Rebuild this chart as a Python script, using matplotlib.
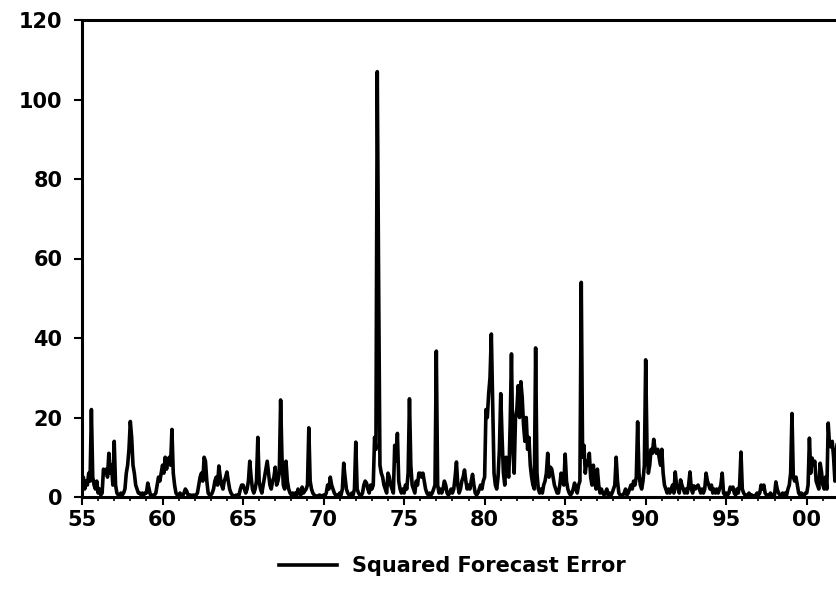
import numpy as np
import matplotlib.pyplot as plt
from matplotlib.ticker import FixedLocator, MultipleLocator

plt.rcParams['font.family'] = ['DejaVu Sans']
plt.rcParams['font.weight'] = 'bold'

# monthly squared forecast errors, Jan..Dec per row
err_1955_59 = [
    3, 5, 2, 4, 3, 6, 4, 22, 5, 3, 2, 4,
    1, 2, 0.5, 1, 7, 6, 7, 5, 11, 6, 8, 3,
    14, 3, 1, 0.5, 0.5, 1, 0.5, 1, 2, 6, 8, 12,
    19, 15, 8, 6, 3, 2, 1, 1, 0.5, 1, 0.5, 1,
    1, 3.5, 2, 0.5, 0.5, 0.3, 0.5, 1, 3, 5, 4, 6,
]
err_1960_64 = [
    8, 6, 10, 7, 9, 10, 8, 17, 6, 3, 1, 0.5,
    0.5, 1, 0.5, 0.3, 1, 2, 1.5, 0.5, 0.3, 0.5, 0.2, 0.5,
    0.3, 0.5, 1, 3, 5, 6, 4, 10, 9, 4, 1, 0.5,
    0.5, 1, 2, 4, 5, 3, 7.8, 5, 3, 2, 4, 5,
    6.3, 4, 2, 1, 0.5, 0.3, 0.2, 0.5, 0.3, 0.5, 2, 3,
]
err_1965_69 = [
    3, 2, 1, 2, 4, 9, 5, 2, 1, 2, 4, 15,
    4, 2, 1, 3, 5, 7, 9, 6, 3, 2, 4, 5,
    7.5, 3, 4, 6, 24.4, 10, 3, 2, 9, 4, 2, 1,
    0.5, 1, 0.5, 1, 0.5, 2, 1, 0.5, 2.5, 1, 1.5, 2,
    3, 17.4, 4, 2, 1, 0.5, 0.3, 0.2, 0.3, 0.5, 0.3, 0.2,
]
err_1970_74 = [
    0.5, 0.3, 1, 3, 2, 5, 3, 2, 1, 0.5, 0.3, 0.5,
    1, 0.5, 2, 8.5, 5, 2, 1, 0.5, 0.3, 1, 0.5, 2,
    13.8, 2, 1, 0.5, 0.3, 1, 3, 4, 3.5, 2, 1, 3,
    2, 3, 15, 12, 107, 55, 8, 6, 5, 3, 2, 1,
    6, 5, 3, 2, 1, 13, 9, 16, 4, 2, 1, 2,
]
err_1975_79 = [
    1, 3, 2, 6, 24.7, 8, 3, 2, 1, 4, 3, 6,
    6, 5, 6, 4, 2, 1, 0.5, 1, 0.5, 1, 2, 3,
    36.7, 3, 1, 2, 1, 2, 4, 3, 1, 0.5, 1, 2,
    1, 2, 5, 8.8, 3, 1, 2, 4, 5, 6.8, 4, 2,
    3, 2, 4, 5.7, 3, 1, 0.5, 1, 2, 3, 2, 4,
]
err_1980_84 = [
    5, 22, 20, 26, 30, 41, 24, 6, 3, 2, 5, 12,
    26, 15, 6, 3, 10, 6, 5, 18, 36, 12, 6, 20,
    22, 28, 20, 29, 25, 18, 14, 20, 12, 15, 8, 5,
    3, 2, 37.5, 6, 2, 1, 2, 1, 3, 4, 6, 11,
    5, 7.5, 7, 5, 3, 2, 1, 1, 3, 6, 4, 3,
]
err_1985_89 = [
    10.8, 4, 2, 1, 0.5, 1, 2, 3.5, 2, 1, 3, 4,
    54, 10, 13, 6, 9, 8, 11, 5, 3, 8, 4, 2,
    7, 3, 1, 2, 1, 0.5, 1, 2, 0.5, 1, 0.3, 1,
    2, 3, 10, 4, 1, 0.5, 0.3, 0.5, 1, 2, 0.5, 1,
    2, 3, 2, 4, 3, 5, 18.9, 6, 3, 2, 4, 8,
]
err_1990_94 = [
    34.5, 12, 6, 8, 12, 11, 14.5, 12, 11, 12, 10, 8,
    12, 6, 3, 2, 1, 2, 1, 2, 3, 1, 6.3, 3,
    2, 1, 4.3, 3, 2, 1, 2, 1, 3, 6.3, 2, 1,
    2.8, 2, 2.5, 3, 2, 1, 2, 1, 2, 6, 4, 3,
    2, 3, 1, 2, 1, 2, 1, 2, 3, 6, 1, 0.5,
]
err_1995_01 = [
    1, 0.5, 1, 2.5, 2, 2.5, 1, 0.5, 2, 1, 3, 11.3,
    2, 1, 0.5, 0.3, 0.5, 1, 0.3, 0.5, 0.3, 0.2, 0.5, 1,
    0.5, 1, 3, 2, 3, 1, 0.5, 0.3, 0.5, 1, 0.5, 0.3,
    0.5, 3.8, 2, 1, 0.5, 0.3, 1, 0.5, 1, 0.5, 2, 3,
    6, 21, 5, 4, 5, 3, 1, 0.5, 1, 0.5, 0.3, 1,
    1, 3, 14.8, 6, 9.8, 8, 9, 4, 3, 2, 8.5, 6.3,
    3, 2, 5, 2, 18.6, 13, 12.6, 14, 10, 4, 12, 14,
]

tick_years = [1955, 1960, 1965, 1970, 1975, 1980, 1985, 1990, 1995, 2000]
tick_labels = ['55', '60', '65', '70', '75', '80', '85', '90', '95', '00']

err = np.array(err_1955_59 + err_1960_64 + err_1965_69 + err_1970_74 + err_1975_79
               + err_1980_84 + err_1985_89 + err_1990_94 + err_1995_01)
t = 1955 + np.arange(len(err)) / 12.0

fig = plt.figure(figsize=(8.37, 6.09), dpi=100)
# axes runs off the right edge, like the cropped original
ax = fig.add_axes([82 / 837, 112 / 609, 765 / 837, 477 / 609])

ax.plot(t, err, color='black', lw=2.6, label='Squared Forecast Error')

ax.set_xlim(1955, 2002.5)
ax.set_ylim(0, 120)
ax.xaxis.set_major_locator(FixedLocator(tick_years))
ax.set_xticklabels(tick_labels)
ax.xaxis.set_minor_locator(MultipleLocator(1))
ax.yaxis.set_major_locator(MultipleLocator(20))

for s in ax.spines.values():
    s.set_linewidth(2.2)
ax.spines['right'].set_visible(False)

ax.tick_params(axis='both', which='major', direction='out', length=6, width=1.5,
               labelsize=15, pad=3)
ax.tick_params(axis='y', which='major', pad=8)
ax.tick_params(axis='x', which='minor', direction='out', length=3, width=1.2)
ax.tick_params(axis='y', which='minor', left=False)

fig.legend(loc='center', bbox_to_anchor=(452 / 837, 1 - 566 / 609), frameon=False,
           fontsize=15, handlelength=2.8, handletextpad=0.7)

fig.savefig('out.png', dpi=100)
